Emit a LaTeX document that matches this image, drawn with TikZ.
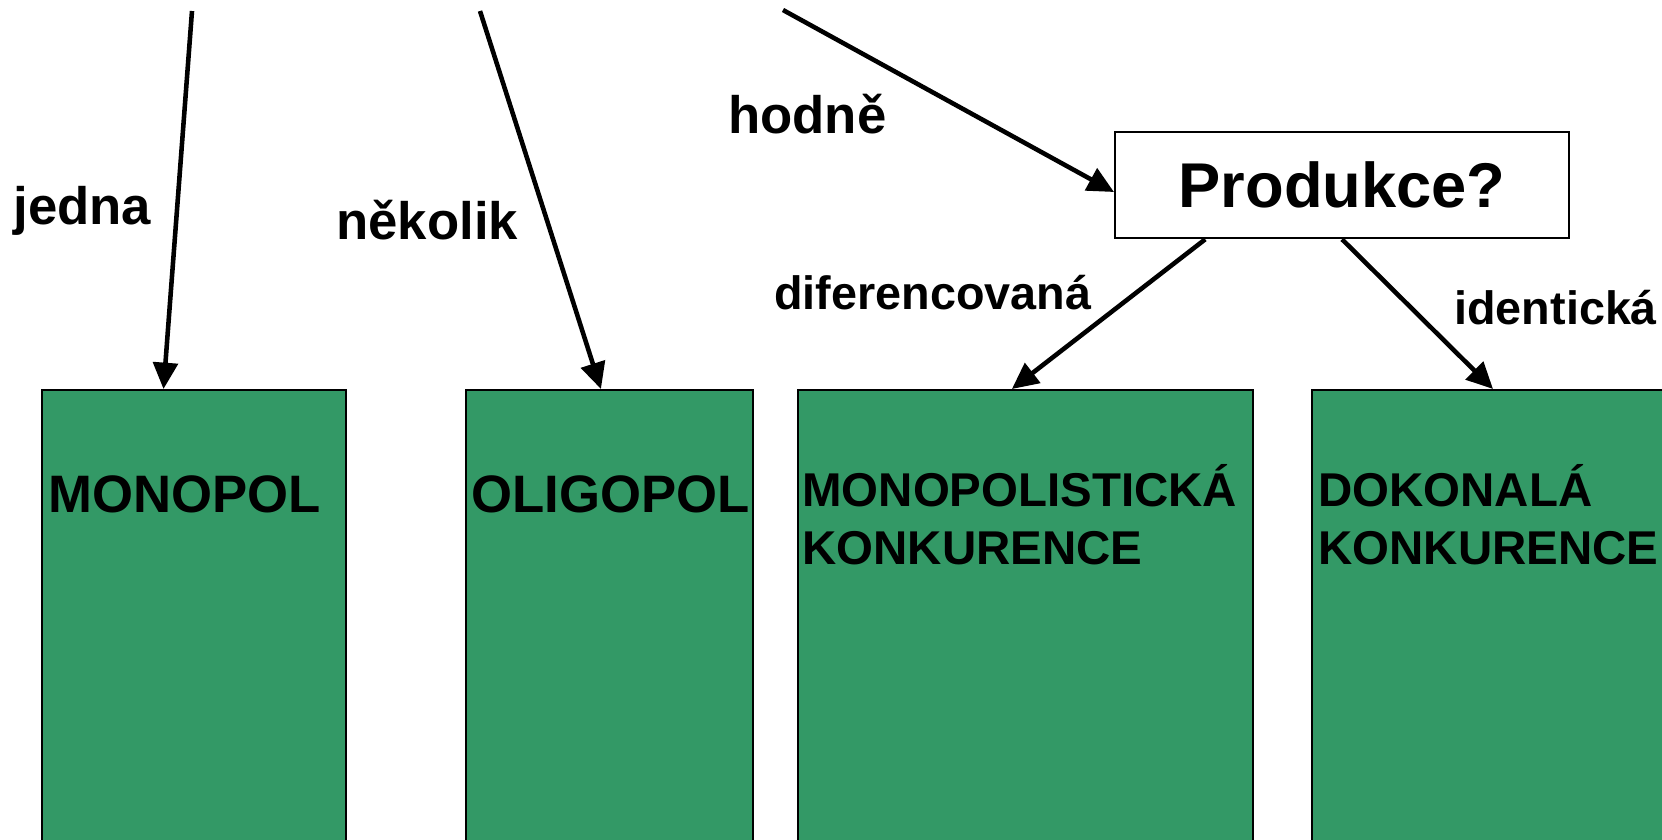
\documentclass[tikz,border=0pt]{standalone}
\usepackage{fontspec}
\setmainfont{Liberation Sans}
\usepackage{tikz}
\usetikzlibrary{arrows.meta, positioning, calc}
\definecolor{marketgreen}{HTML}{339966}

\begin{document}
\begin{tikzpicture}[x=0.02cm, y=-0.02cm]
    % Define styles
    \tikzstyle{market}=[draw=black, line width=1.3pt, fill=marketgreen, anchor=north west, inner sep=0pt, minimum height=10cm]
    \tikzstyle{question}=[draw=black, line width=1.2pt, fill=white, minimum width=9.08cm, minimum height=2.13cm, font=\fontsize{36}{43}\selectfont\bfseries]
    \tikzstyle{answer}=[anchor=base west, inner sep=0pt, font=\fontsize{30}{36}\selectfont\bfseries]
    \tikzstyle{kind}=[anchor=base west, inner sep=0pt, font=\fontsize{26.6}{32}\selectfont\bfseries]
    \tikzstyle{market_text}=[anchor=base west, inner sep=0pt, align=left, font=\fontsize{27}{32.7}\selectfont\bfseries]
    \tikzstyle{flow}=[line width=2.6pt, -{Triangle[length=15pt, width=14pt]}]

    \clip (0,0) rectangle (1662,839);

    % --- 1. Market forms (green columns) ---
    \node[market, minimum width=6.08cm] (monopol) at (41,389) {};
    \node[market, minimum width=5.74cm] (oligopol) at (465,389) {};
    \node[market, minimum width=9.1cm] (monopolistic) at (797,389) {};
    \node[market, minimum width=8cm] (dokonala) at (1311,389) {};

    \node[answer] (monopol_txt) at (48,512) {MONOPOL};
    \node[answer] (oligopol_txt) at (471,512) {OLIGOPOL};
    \node[market_text] (monopolistic_txt) at (802,564) {MONOPOLISTICKÁ\\KONKURENCE};
    \node[market_text] (dokonala_txt) at (1318,564) {DOKONALÁ\\KONKURENCE};

    % --- 2. Question about the product ---
    \node[question] (produkce) at (1342,185) {Produkce?};

    % --- 3. Number of firms ---
    \coordinate (from_jedna) at (192,11);
    \coordinate (from_nekolik) at (480,11);
    \coordinate (from_hodne) at (783,10);

    \draw[flow] (from_jedna) -- ($(monopol.north west)!0.4!(monopol.north east)$);
    \draw[flow] (from_nekolik) -- ($(oligopol.north west)!0.47!(oligopol.north east)$);
    \draw[flow] (from_hodne) -- ([yshift=-0.14cm]produkce.west);
    \draw[flow] ($(produkce.south west)!0.2!(produkce.south east)$) -- ($(monopolistic.north west)!0.47!(monopolistic.north east)$);
    \draw[flow] (produkce.south) -- ($(dokonala.north west)!0.4525!(dokonala.north east)$);

    % --- 4. Labels ---
    \node[answer] (jedna) at (13,224) {jedna};
    \node[answer] (nekolik) at (336,239) {několik};
    \node[answer] (hodne) at (728,133) {hodně};
    \node[kind] (diferencovana) at (774,309) {diferencovaná};
    \node[kind] (identicka) at (1454,324) {identická};

\end{tikzpicture}
\end{document}
